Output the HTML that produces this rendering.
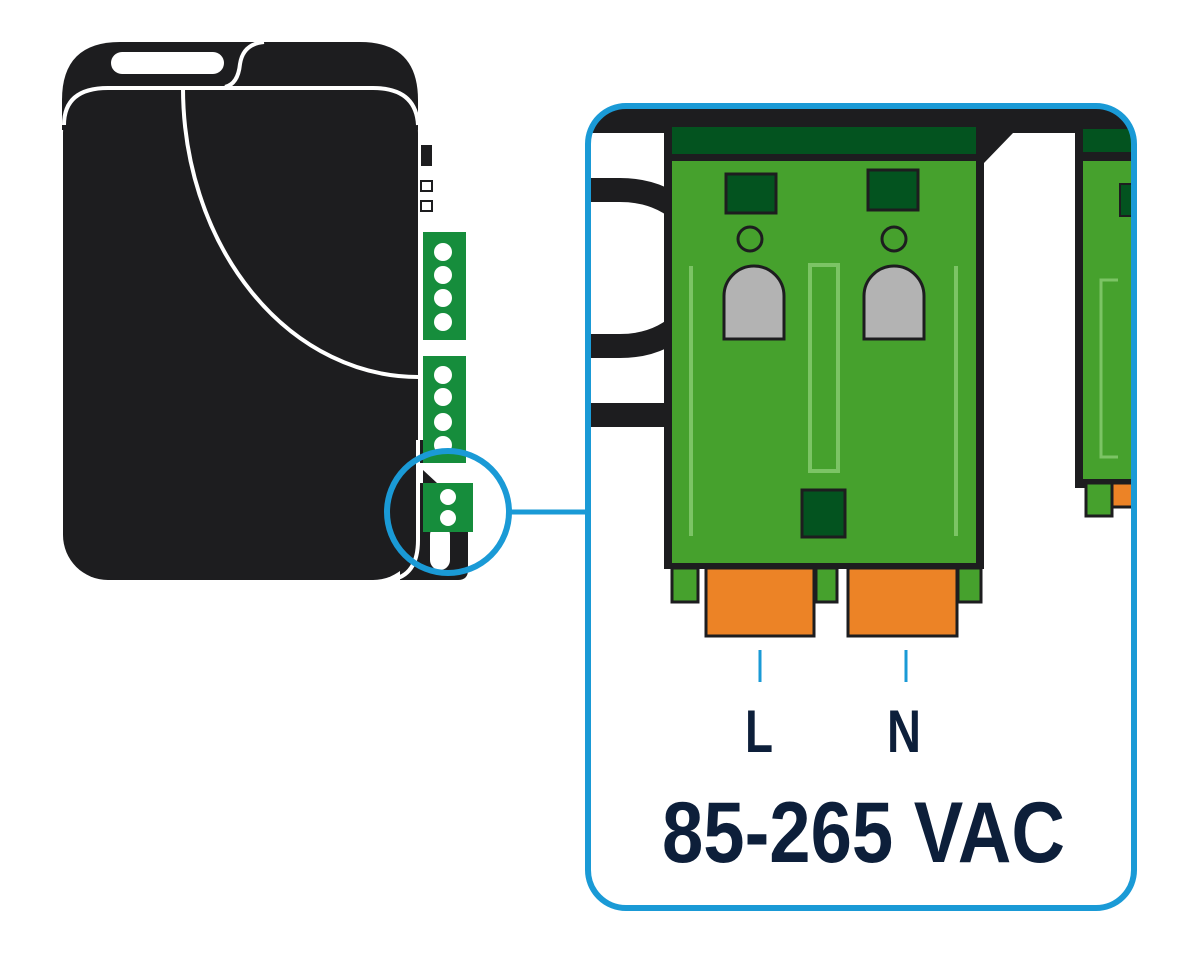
<!DOCTYPE html>
<html><head><meta charset="utf-8"><style>html,body{margin:0;padding:0;background:#fff}svg{display:block}</style></head>
<body>
<svg width="1200" height="954" viewBox="0 0 1200 954" xmlns="http://www.w3.org/2000/svg">
<path d="M400,440 L462,440 L462,570 Q462,580 452,580 L400,580 Z" fill="#1d1d1f"/>
<path d="M62,100 Q62,42 120,42 L360,42 Q418,42 418,100 L418,130 L62,130 Z" fill="#1d1d1f"/>
<rect x="63" y="88" width="355" height="492" rx="45" fill="#1d1d1f"/>
<path d="M64,125 Q64,88 108,88 L373,88 Q416,88 418,125" fill="none" stroke="#fff" stroke-width="4"/>
<path d="M225,87 Q238,84 240,64 Q243,44 264,42" fill="none" stroke="#fff" stroke-width="4"/>
<rect x="111" y="52" width="113" height="22" rx="11" fill="#fff"/>
<path d="M183,88 A235,289 0 0 0 418,377" fill="none" stroke="#fff" stroke-width="4"/>
<rect x="421" y="145" width="11" height="21" fill="#1d1d1f"/>
<rect x="421" y="181" width="11" height="10" fill="#fff" stroke="#1d1d1f" stroke-width="2"/>
<rect x="421" y="201" width="11" height="10" fill="#fff" stroke="#1d1d1f" stroke-width="2"/>
<rect x="423" y="232" width="43" height="108" fill="#168d3c"/>
<g fill="#fff"><circle cx="443" cy="252" r="9"/><circle cx="443" cy="275" r="9"/><circle cx="443" cy="298" r="9"/><circle cx="443" cy="322" r="9"/></g>
<rect x="423" y="356" width="43" height="107" fill="#168d3c"/>
<g fill="#fff"><circle cx="443" cy="375" r="9"/><circle cx="443" cy="397" r="9"/><circle cx="443" cy="422" r="9"/><circle cx="443" cy="445" r="9"/></g>
<rect x="420" y="463" width="48" height="20" fill="#fff"/>
<path d="M423,470 L437,483 L423,483 Z" fill="#1d1d1f"/>
<path d="M423,532 L468,532 L468,570 Q468,580 458,580 L423,580 Z" fill="#1d1d1f"/>
<rect x="430" y="525" width="20" height="45" rx="10" fill="#fff"/>
<rect x="423" y="483" width="50" height="49" fill="#168d3c"/>
<circle cx="448" cy="497" r="8" fill="#fff"/><circle cx="448" cy="518" r="8" fill="#fff"/>
<path d="M418,440 L418,540 Q418,576 390,580" fill="none" stroke="#fff" stroke-width="4"/>
<circle cx="448" cy="512" r="61" fill="none" stroke="#1a9ad6" stroke-width="6"/>
<line x1="509" y1="512" x2="587" y2="512" stroke="#1a9ad6" stroke-width="5"/>

<defs><clipPath id="c"><rect x="588" y="106" width="546" height="802" rx="38"/></clipPath></defs>
<g clip-path="url(#c)">
<rect x="580" y="100" width="560" height="33" fill="#1d1d1f"/>
<path d="M590,190 L620,190 Q660,190 685,215 L685,320 Q660,346 620,346 L590,346" fill="none" stroke="#1d1d1f" stroke-width="24"/>
<rect x="590" y="403" width="80" height="24" fill="#1d1d1f"/>
<path d="M980,133 L1013,133 L984,163 Z" fill="#1d1d1f"/>
<rect x="664" y="127" width="320" height="442" fill="#1d1d1f"/>
<rect x="672" y="127" width="304" height="27" fill="#03531f"/>
<rect x="672" y="161" width="304" height="402" fill="#46a12d"/>
<g fill="#03531f" stroke="#1d1d1f" stroke-width="3">
<rect x="726" y="174" width="50" height="39"/>
<rect x="868" y="170" width="50" height="40"/>
<rect x="802" y="490" width="43" height="47"/>
</g>
<g fill="none" stroke="#1d1d1f" stroke-width="3"><circle cx="750" cy="239" r="12"/><circle cx="894" cy="239" r="12"/></g>
<g fill="#b3b3b3" stroke="#1d1d1f" stroke-width="3">
<path d="M724,339 L724,296 A30,30 0 0 1 784,296 L784,339 Z"/>
<path d="M864,339 L864,296 A30,30 0 0 1 924,296 L924,339 Z"/>
</g>
<g stroke="#7cc465" stroke-width="4" fill="none">
<line x1="691" y1="266" x2="691" y2="536"/>
<line x1="956" y1="266" x2="956" y2="536"/>
<rect x="810" y="265" width="28" height="206"/>
</g>
<g stroke="#1d1d1f" stroke-width="3">
<rect x="672" y="568" width="26" height="34" fill="#46a12d"/>
<rect x="816" y="568" width="21" height="34" fill="#46a12d"/>
<rect x="958" y="568" width="23" height="34" fill="#46a12d"/>
<rect x="706" y="568" width="108" height="68" fill="#ec8326"/>
<rect x="848" y="568" width="109" height="68" fill="#ec8326"/>
</g>
<rect x="1075" y="127" width="70" height="361" fill="#1d1d1f"/>
<rect x="1083" y="129" width="60" height="23" fill="#03531f"/>
<rect x="1083" y="161" width="60" height="318" fill="#46a12d"/>
<rect x="1120" y="184" width="14" height="32" fill="#03531f" stroke="#1d1d1f" stroke-width="2"/>
<path d="M1118,280 L1101,280 L1101,457 L1118,457" fill="none" stroke="#7cc465" stroke-width="3"/>
<rect x="1086" y="483" width="26" height="33" fill="#46a12d" stroke="#1d1d1f" stroke-width="3"/>
<rect x="1112" y="483" width="30" height="24" fill="#ec8326" stroke="#1d1d1f" stroke-width="3"/>
</g>
<rect x="588" y="106" width="546" height="802" rx="38" fill="none" stroke="#1a9ad6" stroke-width="6"/>

<line x1="760" y1="650" x2="760" y2="682" stroke="#1a9ad6" stroke-width="3"/>
<line x1="906" y1="650" x2="906" y2="682" stroke="#1a9ad6" stroke-width="3"/>
<text x="759" y="752" font-family="Liberation Sans, sans-serif" font-size="60" font-weight="bold" fill="#0d1f3a" text-anchor="middle" textLength="28" lengthAdjust="spacingAndGlyphs">L</text>
<text x="904" y="752" font-family="Liberation Sans, sans-serif" font-size="60" font-weight="bold" fill="#0d1f3a" text-anchor="middle" textLength="34" lengthAdjust="spacingAndGlyphs">N</text>
<text x="662" y="862" font-family="Liberation Sans, sans-serif" font-size="86" font-weight="bold" fill="#0d1f3a" textLength="403" lengthAdjust="spacingAndGlyphs">85-265 VAC</text>
</svg>
</body></html>
